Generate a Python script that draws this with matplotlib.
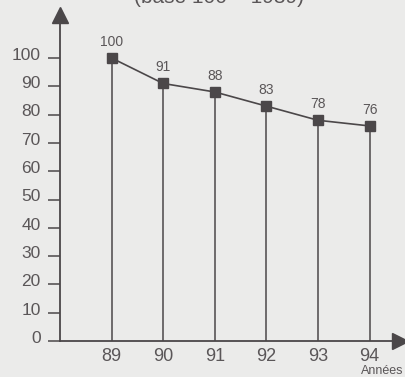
import matplotlib.pyplot as plt
import matplotlib.transforms as mtransforms

# Indice base 100 en 1989
annees = [89, 90, 91, 92, 93, 94]
indice = [100, 91, 88, 83, 78, 76]
graduations = list(range(0, 101, 10))

fond = '#ebebea'
trait = '#4b4749'
texte = '#5a5658'

plt.rcParams['font.family'] = ['Liberation Sans', 'DejaVu Sans']

fig = plt.figure(figsize=(4.05, 3.77), dpi=100, facecolor=fond)
ax = fig.add_axes([60 / 405, 36 / 377, 340 / 405, 326 / 377])
ax.set_facecolor(fond)
ax.set_xlim(88, 94.59)
ax.set_ylim(0, 115.2)

for s in ['top', 'right']:
    ax.spines[s].set_visible(False)
for s in ['left', 'bottom']:
    ax.spines[s].set_color(trait)
    ax.spines[s].set_linewidth(1.3)

# fleches au bout des axes
ax.plot(1, 0, '>', color=trait, markersize=12, transform=ax.transAxes, clip_on=False)
ax.plot(0, 1, '^', color=trait, markersize=12, transform=ax.transAxes, clip_on=False)

ax.set_yticks(graduations)
ax.set_yticklabels([str(g) for g in graduations])
ax.tick_params(axis='y', direction='out', length=9, width=1.1, color=trait,
               labelsize=12.5, labelcolor=texte, pad=5)
# les chiffres de l'axe vertical sont un peu au-dessus des graduations
decal = mtransforms.ScaledTranslation(0, 3 / 72, fig.dpi_scale_trans)
for lab in ax.get_yticklabels():
    lab.set_transform(lab.get_transform() + decal)

ax.set_xticks(annees)
ax.set_xticklabels([str(a) for a in annees])
ax.tick_params(axis='x', length=0, labelsize=13, labelcolor=texte, pad=5)

# traits verticaux jusqu'a l'axe
ax.vlines(annees, 0, indice, color=trait, linewidth=1.1)
ax.plot(annees, indice, color=trait, linewidth=1.2, marker='s',
        markersize=7.5, markerfacecolor=trait, markeredgecolor=trait, clip_on=False)
for a, v in zip(annees, indice):
    ax.text(a, v + 3.2, str(v), ha='center', va='bottom', fontsize=10, color=texte)

fig.text(403 / 405, 1 - 365 / 377, 'Années', ha='right', va='top', fontsize=9,
         color=texte)

fig.text(0.54, 1 - 3 / 377, '(base 100 = 1989)', ha='center', va='baseline',
         fontsize=15, color=texte)

fig.savefig('out.png', dpi=100, facecolor=fond)
